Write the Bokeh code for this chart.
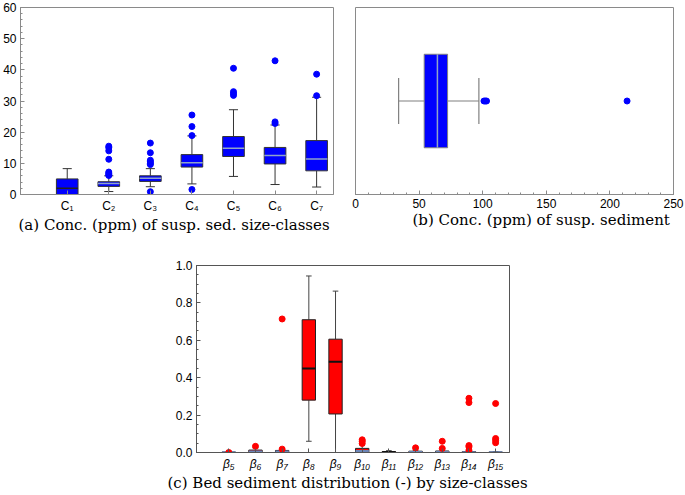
import numpy as np
from bokeh.plotting import figure
from bokeh.models import FixedTicker, Title, Spacer, Range1d, PrintfTickFormatter
from bokeh.layouts import row, column
from bokeh.embed import file_html
from bokeh.resources import INLINE

# ---------------- data ----------------
# (a) suspended sediment size-class concentrations (ppm)
cats_a = ["C\u2081", "C\u2082", "C\u2083", "C\u2084", "C\u2085", "C\u2086", "C\u2087"]
a_low = [0.0, 0.95, 2.5, 3.4, 5.8, 3.2, 2.4]
a_q1 = [0.0, 2.6, 4.2, 8.8, 12.2, 9.8, 7.6]
a_med = [2.0, 3.5, 5.2, 10.2, 14.8, 12.5, 11.4]
a_q3 = [5.0, 4.1, 6.0, 12.8, 18.6, 15.1, 17.3]
a_high = [8.3, 6.0, 8.3, 18.8, 27.2, 22.3, 31.2]
a_out = [[],
         [15.5, 15.0, 14.0, 11.3, 7.2, 6.8, 6.4, 6.1],
         [16.5, 13.4, 11.0, 10.5, 10.0, 9.6, 0.9],
         [25.5, 21.8, 18.9, 1.6],
         [40.5, 33.0, 32.4, 31.8],
         [42.9, 23.3, 22.8],
         [38.6, 31.7]]

# (b) total suspended sediment concentration (ppm)
b_low, b_q1, b_med, b_q3, b_high = 33.9, 54.0, 64.4, 72.4, 97.0
b_out = [101.0, 102.0, 103.0, 213.5]

# (c) bed sediment fractions by size class
cats_c = ["\u03b2\u2085", "\u03b2\u2086", "\u03b2\u2087", "\u03b2\u2088", "\u03b2\u2089",
          "\u03b2\u2081\u2080", "\u03b2\u2081\u2081", "\u03b2\u2081\u2082", "\u03b2\u2081\u2083",
          "\u03b2\u2081\u2084", "\u03b2\u2081\u2085"]
c_low = [0.0, 0.0, 0.0, 0.06, 0.0, 0.0, 0.0, 0.0, 0.0, 0.0, 0.0]
c_q1 = [0.0, 0.0, 0.002, 0.28, 0.206, 0.0, 0.0, 0.0, 0.0, 0.0, 0.0]
c_med = [0.001, 0.005, 0.006, 0.449, 0.485, 0.008, 0.003, 0.003, 0.003, 0.002, 0.001]
c_q3 = [0.003, 0.013, 0.011, 0.71, 0.606, 0.022, 0.005, 0.007, 0.008, 0.005, 0.003]
c_high = [0.008, 0.025, 0.015, 0.944, 0.863, 0.04, 0.01, 0.012, 0.015, 0.008, 0.005]
c_out = [[0.0], [0.033], [0.714, 0.018], [], [], [0.068, 0.06, 0.048], [],
         [0.025], [0.06, 0.022], [0.29, 0.267, 0.037, 0.03, 0.012], [0.262, 0.075, 0.065, 0.052]]

captions = ["(a) Conc. (ppm) of susp. sed. size-classes",
            "(b) Conc. (ppm) of susp. sediment",
            "(c) Bed sediment distribution (-) by size-classes"]

# ---------------- styles ----------------
BLUE = "#0000ff"
RED = "#ff0000"
MED_LIGHT = "#8fa3c8"
TICK_FONT = "Liberation Sans"
CAP_FONT = "DejaVu Serif"


def style_axes(p, frame_color):
    p.outline_line_color = frame_color
    p.grid.visible = False
    for ax in p.axis:
        ax.axis_line_color = frame_color
        ax.major_tick_line_color = frame_color
        ax.minor_tick_line_color = frame_color
        ax.major_tick_in = 4
        ax.major_tick_out = 0
        ax.minor_tick_in = 2
        ax.minor_tick_out = 0
        ax.major_label_text_font = TICK_FONT
        ax.major_label_text_font_size = "12px"
        ax.major_label_text_color = "black"
        ax.major_label_standoff = 4


def caption(p, text, offset):
    p.add_layout(Title(text=text, align="left", offset=offset, vertical_align="top",
                       text_font=CAP_FONT, text_font_size="15px", text_font_style="normal",
                       text_color="black", standoff=0), "below")


def vboxes(p, pos, low, q1, med, q3, high, outs, fill, width, med_colors, whisk_color, box_line, med_w):
    pos = np.asarray(pos, dtype=float)
    cap = width * 0.42
    p.segment(x0=pos, x1=pos, y0=q3, y1=high, line_color=whisk_color, line_width=1)
    p.segment(x0=pos, x1=pos, y0=low, y1=q1, line_color=whisk_color, line_width=1)
    p.segment(x0=pos - cap / 2, x1=pos + cap / 2, y0=high, y1=high, line_color=whisk_color, line_width=1)
    p.segment(x0=pos - cap / 2, x1=pos + cap / 2, y0=low, y1=low, line_color=whisk_color, line_width=1)
    p.vbar(x=pos, bottom=q1, top=q3, width=width, fill_color=fill, line_color=box_line, line_width=1)
    p.segment(x0=pos - width / 2, x1=pos + width / 2, y0=med, y1=med, line_color=med_colors, line_width=med_w)
    ox = [x for x, o in zip(pos, outs) for _ in o]
    oy = [v for o in outs for v in o]
    p.scatter(x=ox, y=oy, size=6, fill_color=fill, line_color=fill, marker="circle")


# ---------------- panel (a) ----------------
pos_a = list(range(1, len(cats_a) + 1))
pa = figure(width=340, height=240, min_border_left=18, min_border_right=7,
            min_border_top=7, min_border_bottom=46,
            x_range=Range1d(-0.124, 7.406), y_range=Range1d(0, 60),
            output_backend="svg", toolbar_location=None)
style_axes(pa, "#8a8a8a")
pa.xaxis.ticker = FixedTicker(ticks=pos_a, minor_ticks=[])
pa.xaxis.major_label_overrides = {p: c for p, c in zip(pos_a, cats_a)}
pa.yaxis.ticker = FixedTicker(ticks=list(range(0, 61, 10)), minor_ticks=list(range(0, 61, 2)))
med_cols_a = ["#222222"] + [MED_LIGHT] * (len(cats_a) - 1)
vboxes(pa, pos_a, a_low, a_q1, a_med, a_q3, a_high, a_out, BLUE, 0.52, med_cols_a, "#333333", "#333333", 1.5)
caption(pa, captions[0], -2)

# ---------------- panel (b) ----------------
pb = figure(width=345, height=240, min_border_left=15, min_border_right=12,
            min_border_top=7, min_border_bottom=46,
            x_range=Range1d(0, 250), y_range=Range1d(-1, 1),
            output_backend="svg", toolbar_location=None)
style_axes(pb, "#8a8a8a")
pb.yaxis.visible = False
pb.xaxis.ticker = FixedTicker(ticks=list(range(0, 251, 50)), minor_ticks=list(range(0, 251, 10)))
WG = "#808080"
pb.segment(x0=[b_low, b_q3], x1=[b_q1, b_high], y0=[0, 0], y1=[0, 0], line_color=WG, line_width=1.2)
pb.segment(x0=[b_low, b_high], x1=[b_low, b_high], y0=[-0.245, -0.245], y1=[0.245, 0.245],
           line_color=WG, line_width=1.2)
pb.hbar(y=[0], left=[b_q1], right=[b_q3], height=1.0, fill_color=BLUE, line_color=WG, line_width=1)
pb.segment(x0=[b_med], x1=[b_med], y0=[-0.5], y1=[0.5], line_color=MED_LIGHT, line_width=1.5)
pb.scatter(x=b_out, y=[0] * len(b_out), size=6, fill_color=BLUE, line_color=BLUE, marker="circle")
caption(pb, captions[1], 57)

# ---------------- panel (c) ----------------
pos_c = list(range(1, len(cats_c) + 1))
pc = figure(width=379, height=254, min_border_left=36, min_border_right=30,
            min_border_top=25, min_border_bottom=42,
            x_range=Range1d(-0.21, 11.52), y_range=Range1d(0, 1.0),
            output_backend="svg", toolbar_location=None)
style_axes(pc, "#555555")
pc.xaxis.ticker = FixedTicker(ticks=pos_c, minor_ticks=[])
pc.xaxis.major_label_overrides = {p: c for p, c in zip(pos_c, cats_c)}
pc.xaxis.major_label_text_font_style = "italic"
pc.yaxis.ticker = FixedTicker(ticks=[0, 0.2, 0.4, 0.6, 0.8, 1.0],
                              minor_ticks=[i * 0.05 for i in range(21)])
pc.yaxis.formatter = PrintfTickFormatter(format="%.1f")
med_cols_c = ["#6c86b8"] * 3 + ["#111111"] * 2 + ["#6c86b8", "#111111"] + ["#6c86b8"] * 4
vboxes(pc, pos_c, c_low, c_q1, c_med, c_q3, c_high, c_out, RED, 0.5, med_cols_c, "#444444", "#222222", 2)
caption(pc, captions[2], -29)

layout = column(row(pa, pb), row(Spacer(width=160, height=10), pc))
open("out.html", "w").write(file_html(layout, INLINE))
